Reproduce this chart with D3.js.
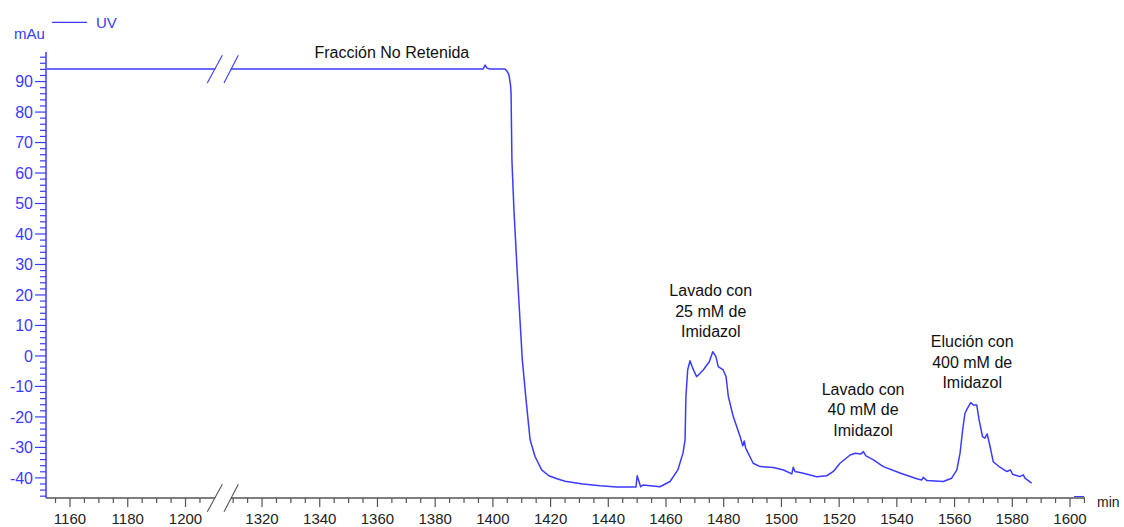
<!DOCTYPE html>
<html>
<head>
<meta charset="utf-8">
<script src="https://cdn.jsdelivr.net/npm/d3@7/dist/d3.min.js"></script>
<style>
  html, body { margin: 0; padding: 0; background: #fff; }
  svg { display: block; }
  text { font-family: "Liberation Sans", Arial, sans-serif; }
</style>
</head>
<body>
<svg id="chart" width="1124" height="527"></svg>
<script>
// ---------- data ----------
const timeMin = [1152, 1396.6, 1397.3, 1398, 1399, 1404.2, 1404.9, 1405.6, 1406.1, 1406.3, 1406.6, 1407.3, 1408.4,
  1409.4, 1410.2, 1411.5, 1412.9, 1414.6, 1416.9, 1419.4, 1422.2, 1425, 1431.2, 1437.1, 1443, 1449.6, 1450,
  1451.2, 1452.1, 1457.9, 1461.4, 1464.1, 1465.9, 1466.6, 1466.9, 1467.5, 1468.3, 1469.2, 1470.6, 1472.9,
  1475, 1476.2, 1477.3, 1478.1, 1479.8, 1480.8, 1481.6, 1483.3, 1485.7, 1486.6, 1487.1, 1487.6, 1487.9,
  1490.2, 1492.6, 1497.2, 1500.7, 1503.6, 1504.1, 1504.7, 1507.6, 1512.2, 1515.7, 1518, 1520.3, 1523.8,
  1525.5, 1527.5, 1528.4, 1529.3, 1531.9, 1535.3, 1541.1, 1546.9, 1548.6, 1549.2, 1550.4, 1556.1, 1559,
  1560.8, 1561.9, 1562.8, 1563.6, 1564.5, 1565.6, 1566.5, 1567.7, 1568.5, 1569.7, 1570.5, 1571.3, 1572.3,
  1573.4, 1575.7, 1578, 1579.4, 1580.1, 1582.6, 1583.8, 1584.4, 1586.7];
const uvMAu = [94.1, 94.1, 95.4, 94.4, 94.1, 94.1, 93.4, 92.1, 88.9, 86.2, 64.3, 47.9, 28.2,
  11.8, -1.3, -14.4, -27.5, -33.0, -37.4, -39.3, -40.3, -41.1, -42.0, -42.6, -43.0, -43.0, -39.3,
  -42.9, -42.3, -42.9, -41.2, -37.4, -31.8, -27.5, -13.3, -4.6, -1.6, -3.9, -6.8, -4.6,
  -1.9, 1.4, -0.2, -3.5, -4.6, -6.8, -13.3, -19.9, -26.5, -29.5, -27.9, -30.2, -30.8,
  -35.2, -36.3, -36.6, -37.4, -38.7, -36.5, -37.9, -38.5, -39.6, -39.3, -37.9, -35.2, -32.5,
  -31.9, -32.2, -31.4, -32.8, -34.1, -36.3, -38.4, -40.3, -40.7, -39.8, -40.9, -41.2, -40.1,
  -37.4, -31.9, -24.3, -18.8, -17.1, -15.3, -16.1, -16.1, -21.0, -26.5, -27.0, -25.6, -29.7,
  -34.7, -36.5, -37.9, -37.4, -38.8, -39.6, -39.0, -40.1, -41.7];
const markTime = [1601.4, 1604.9];
const markUV = [-46.1, -46.1];

const xMajorTicks = [1160, 1180, 1200, 1320, 1340, 1360, 1380, 1400, 1420, 1440, 1460, 1480, 1500, 1520, 1540, 1560, 1580, 1600];
const xMinorTicks = [1155, 1165, 1170, 1175, 1185, 1190, 1195, 1205, 1310, 1315, 1325, 1330, 1335, 1345, 1350, 1355,
  1365, 1370, 1375, 1385, 1390, 1395, 1405, 1410, 1415, 1425, 1430, 1435, 1445, 1450, 1455, 1465, 1470, 1475,
  1485, 1490, 1495, 1505, 1510, 1515, 1525, 1530, 1535, 1545, 1550, 1555, 1565, 1570, 1575, 1585, 1590, 1595, 1605];
const yMajorTicks = [-40, -30, -20, -10, 0, 10, 20, 30, 40, 50, 60, 70, 80, 90];
const yMinorTicks = [-46, -44, -42, -38, -36, -34, -32, -28, -26, -24, -22, -18, -16, -14, -12, -8, -6, -4, -2,
  2, 4, 6, 8, 12, 14, 16, 18, 22, 24, 26, 28, 32, 34, 36, 38, 42, 44, 46, 48, 52, 54, 56, 58, 62, 64, 66, 68,
  72, 74, 76, 78, 82, 84, 86, 88, 92, 94, 96, 98];

const annotations = [
  { lines: ["Fracción No Retenida"], t: 1365, v: 97.6 },
  { lines: ["Lavado con", "25 mM de", "Imidazol"], t: 1475.5, v: 19.6 },
  { lines: ["Lavado con", "40 mM de", "Imidazol"], t: 1528.3, v: -12.8 },
  { lines: ["Elución con", "400 mM de", "Imidazol"], t: 1566.1, v: 2.9 }
];

// ---------- layout ----------
const blue = "#3b3bff";
const axisGray = "#555";
const svg = d3.select("#chart");

// broken time axis: the gap 1212.8 .. 1306.3 is collapsed to one point
const x = d3.scaleLinear()
  .domain([1151.7, 1212.8, 1306.3, 1605.2])
  .range([46, 222.5, 222.5, 1085]);
const y = d3.scaleLinear().domain([-46.6, 99.7]).range([498, 52]);

const x0 = x.range()[0], x1 = x.range()[3];
const yB = y.range()[0], yT = y.range()[1];

// ---------- line ----------
const pts = timeMin.map((t, i) => [t, uvMAu[i]]);
const line = d3.line().x(d => x(d[0])).y(d => y(d[1]));
svg.append("path").datum(pts)
  .attr("d", line).attr("fill", "none")
  .attr("stroke", blue).attr("stroke-width", 1.5).attr("stroke-linejoin", "round");
svg.append("path").datum(markTime.map((t, i) => [t, markUV[i]]))
  .attr("d", line).attr("fill", "none").attr("stroke", blue).attr("stroke-width", 1);

// ---------- x axis ----------
const gx = svg.append("g").attr("transform", `translate(0,${yB})`);
gx.append("line").attr("x1", x0).attr("x2", x1).attr("stroke", axisGray).attr("stroke-width", 1.3);
gx.selectAll(".xmin").data(xMinorTicks).join("line")
  .attr("x1", d => x(d)).attr("x2", d => x(d)).attr("y1", 0).attr("y2", 5)
  .attr("stroke", axisGray).attr("stroke-width", 1.2);
gx.selectAll(".xmaj").data(xMajorTicks).join("line")
  .attr("x1", d => x(d)).attr("x2", d => x(d)).attr("y1", 0).attr("y2", 9)
  .attr("stroke", axisGray).attr("stroke-width", 1.2);
gx.selectAll(".xlab").data(xMajorTicks).join("text")
  .attr("x", d => x(d)).attr("y", 26).attr("text-anchor", "middle")
  .attr("font-size", 15).attr("fill", "#222").text(d => d);
svg.append("text").attr("x", 1097).attr("y", 507).attr("font-size", 14).attr("fill", "#222").text("min");

// ---------- y axis ----------
const gy = svg.append("g").attr("transform", `translate(${x0},0)`);
gy.append("line").attr("y1", yT).attr("y2", yB).attr("stroke", blue).attr("stroke-width", 1.5);
gy.selectAll(".ymin").data(yMinorTicks).join("line")
  .attr("y1", d => y(d)).attr("y2", d => y(d)).attr("x1", 0).attr("x2", -6)
  .attr("stroke", blue).attr("stroke-width", 1.2);
gy.selectAll(".ymaj").data(yMajorTicks).join("line")
  .attr("y1", d => y(d)).attr("y2", d => y(d)).attr("x1", 0).attr("x2", -11)
  .attr("stroke", blue).attr("stroke-width", 1.2);
gy.selectAll(".ylab").data(yMajorTicks).join("text")
  .attr("x", -13).attr("y", d => y(d)).attr("dy", "0.36em").attr("text-anchor", "end")
  .attr("font-size", 16).attr("fill", blue).text(d => d);

// ---------- axis break marks ----------
const bx = x(1212.8);
function breakMark(cy, color) {
  // two parallel slashes with the gap between them blanked
  const h = 13.85;
  svg.append("polygon")
    .attr("points", [[bx - 14.7, cy + h], [bx + 0.3, cy - h], [bx + 15.3, cy - h], [bx + 1.0, cy + h]].map(p => p.join(",")).join(" "))
    .attr("fill", "#fff");
  [[-15.2, -0.2], [1.5, 15.8]].forEach(([a, b]) => {
    svg.append("line").attr("x1", bx + a).attr("y1", cy + h).attr("x2", bx + b).attr("y2", cy - h)
      .attr("stroke", color).attr("stroke-width", 1.1);
  });
}
breakMark(y(94.1), blue);
breakMark(yB, axisGray);

// ---------- legend ----------
svg.append("line").attr("x1", 52).attr("x2", 87).attr("y1", 22.3).attr("y2", 22.3).attr("stroke", blue).attr("stroke-width", 1.3);
svg.append("text").attr("x", 96).attr("y", 27.5).attr("font-size", 15).attr("fill", blue).text("UV");
svg.append("text").attr("x", 14).attr("y", 38.5).attr("font-size", 15).attr("fill", blue).text("mAu");

// ---------- annotations ----------
annotations.forEach(a => {
  const t = svg.append("text").attr("text-anchor", "middle").attr("font-size", 16).attr("fill", "#111");
  a.lines.forEach((s, i) => {
    t.append("tspan").attr("x", x(a.t)).attr("y", y(a.v) + i * 20.5).text(s);
  });
});
</script>
</body>
</html>
